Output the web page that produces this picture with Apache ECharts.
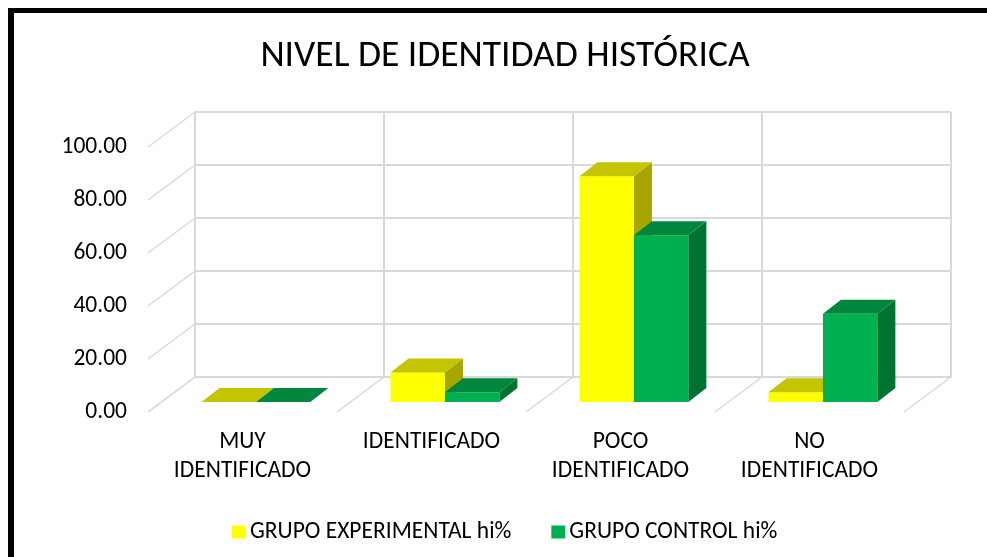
<!DOCTYPE html>
<html>
<head>
<meta charset="utf-8">
<script src="https://cdn.jsdelivr.net/npm/echarts@6/dist/echarts.min.js"></script>
<style>
html, body { margin: 0; padding: 0; background: #fff; }
#main { width: 987px; height: 557px; }
</style>
</head>
<body>
<div id="main"></div>
<script>
var categorias = ['MUY\nIDENTIFICADO', 'IDENTIFICADO', 'POCO\nIDENTIFICADO', 'NO\nIDENTIFICADO'];
var experimental = [0, 11.11, 85.19, 3.70];
var control = [0, 3.70, 62.96, 33.33];
var yTicks = [0, 20, 40, 60, 80, 100];
var nombres = ['GRUPO EXPERIMENTAL hi%', 'GRUPO CONTROL hi%'];

var FONT = 'Carlito, Lato, "Open Sans", sans-serif';
var GRID = '#d9d9d9';
// desplazamiento de profundidad (pared del fondo -> borde delantero)
var DX = -47, DY = 35;

var colores = [
	{ front: '#FFFF00', top: '#C4C400', side: '#A6A600' },
	{ front: '#00B050', top: '#00873D', side: '#007331' }
];

var main = echarts.init(document.getElementById('main'));

function barItem(params, api) {
	var c = colores[params.seriesIndex - 2];
	var top = api.coord([api.value(0), api.value(1)]);
	var base = api.coord([api.value(0), 0]);
	var w = api.size([1, 0])[0];
	var bw = w * 0.288;
	var x = top[0] + (params.seriesIndex == 2 ? -bw : 0) + DX * 0.714;
	var yt = top[1] + DY * 0.714;
	var yb = base[1] + DY * 0.714;
	var dx = 18, dy = -14;
	return {
		type: 'group',
		children: [
			{ type: 'rect', shape: { x: x, y: yt, width: bw, height: yb - yt }, style: { fill: c.front } },
			{ type: 'polygon', shape: { points: [[x + bw, yt], [x + bw + dx, yt + dy], [x + bw + dx, yb + dy], [x + bw, yb]] }, style: { fill: c.side } },
			{ type: 'polygon', shape: { points: [[x, yt], [x + bw, yt], [x + bw + dx, yt + dy], [x + dx, yt + dy]] }, style: { fill: c.top } }
		]
	};
}

function wallItem(params, api) {
	var p = api.coord([0, api.value(1)]);
	var x0 = p[0] - api.size([1, 0])[0] / 2;
	return { type: 'line', shape: { x1: x0, y1: p[1], x2: x0 + DX, y2: p[1] + DY }, style: { stroke: GRID, lineWidth: 1.5 } };
}

function floorItem(params, api) {
	var i = api.value(0);
	var k = Math.min(i, 3);
	var p = api.coord([k, 0]);
	var w = api.size([1, 0])[0];
	var x0 = p[0] + (i - k - 0.5) * w;
	return { type: 'line', shape: { x1: x0, y1: p[1], x2: x0 + DX, y2: p[1] + DY }, style: { stroke: GRID, lineWidth: 1.5 } };
}

var option = {
	animation: false,
	backgroundColor: '#fff',
	title: {
		text: 'NIVEL DE IDENTIDAD HISTÓRICA',
		left: 500,
		top: 33,
		textAlign: 'center',
		textStyle: { fontFamily: FONT, fontSize: 37.5, fontWeight: 'normal', color: '#000' }
	},
	legend: {
		data: nombres,
		left: 227,
		top: 515,
		icon: 'rect',
		itemWidth: 14,
		itemHeight: 13,
		itemGap: 40,
		textStyle: { fontFamily: FONT, fontSize: 23.5, color: '#000', padding: [0, 0, 0, -1] }
	},
	grid: [
		{ left: 195, right: 36, top: 112, bottom: 180 },
		{ left: 148, right: 83, top: 147, bottom: 145 }
	],
	xAxis: [
		{
			type: 'category', gridIndex: 0, data: categorias,
			axisLine: { show: true, lineStyle: { color: GRID, width: 2 } },
			axisTick: { show: false }, axisLabel: { show: false },
			splitLine: { show: true, lineStyle: { color: GRID, width: 2 } }
		},
		{
			type: 'category', gridIndex: 1, data: categorias,
			axisLine: { show: false }, axisTick: { show: false },
			axisLabel: { margin: 16, fontFamily: FONT, fontSize: 23.5, lineHeight: 29, color: '#000', interval: 0 }
		}
	],
	yAxis: [
		{
			type: 'value', gridIndex: 0, min: 0, max: 100, interval: 20,
			axisLine: { show: true, lineStyle: { color: GRID, width: 2 } },
			axisLabel: { show: false },
			splitLine: { show: true, lineStyle: { color: GRID, width: 2 } }
		},
		{
			type: 'value', gridIndex: 1, min: 0, max: 100, interval: 20,
			axisLine: { show: false }, splitLine: { show: false },
			axisLabel: {
				margin: 21, fontFamily: FONT, fontSize: 23.5, color: '#000',
				formatter: function (v) { return v.toFixed(2); }
			}
		}
	],
	graphic: [
		{ type: 'rect', shape: { x: 8, y: 8, width: 6, height: 560 }, style: { fill: '#000' }, z: 100 },
		{ type: 'rect', shape: { x: 8, y: 8, width: 990, height: 5 }, style: { fill: '#000' }, z: 100 }
	],
	series: [
		{
			type: 'custom', xAxisIndex: 0, yAxisIndex: 0, renderItem: wallItem, clip: false, silent: true,
			data: yTicks.map(function (v) { return [0, v]; })
		},
		{
			type: 'custom', xAxisIndex: 0, yAxisIndex: 0, renderItem: floorItem, clip: false, silent: true,
			data: [0, 1, 2, 3, 4].map(function (i) { return [i, 0]; })
		},
		{
			name: nombres[0], type: 'custom', xAxisIndex: 0, yAxisIndex: 0, renderItem: barItem, clip: false,
			itemStyle: { color: colores[0].front },
			data: experimental.map(function (v, i) { return [i, v]; })
		},
		{
			name: nombres[1], type: 'custom', xAxisIndex: 0, yAxisIndex: 0, renderItem: barItem, clip: false,
			itemStyle: { color: colores[1].front },
			data: control.map(function (v, i) { return [i, v]; })
		}
	]
};
main.setOption(option);
</script>
</body>
</html>
